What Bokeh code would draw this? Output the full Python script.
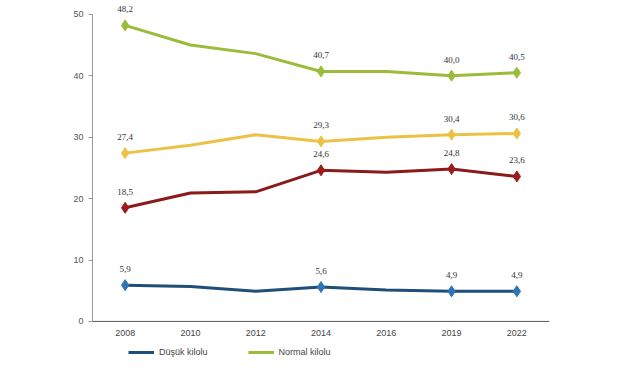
from bokeh.plotting import figure
from bokeh.models import (FactorRange, Range1d, Legend, LegendItem, LabelSet,
                          ColumnDataSource, FixedTicker, Span)
from bokeh.core.properties import value
from bokeh.embed import file_html
from bokeh.resources import INLINE

years = ["2008", "2010", "2012", "2014", "2016", "2019", "2022"]
dusuk = [5.9, 5.7, 4.9, 5.6, 5.1, 4.9, 4.9]
normal = [48.2, 45.0, 43.6, 40.7, 40.7, 40.0, 40.5]
fazla = [27.4, 28.7, 30.4, 29.3, 30.0, 30.4, 30.6]
obez = [18.5, 20.9, 21.1, 24.6, 24.3, 24.8, 23.6]
marked = [0, 3, 5, 6]
y_ticks = [0, 10, 20, 30, 40, 50]

series = [
    ("Düşük kilolu", dusuk, "#1f4e79", "#2e75b6"),
    ("Normal kilolu", normal, "#9bbb3b", "#9bbb3b"),
    ("Fazla kilolu", fazla, "#ecc246", "#ecc246"),
    ("Obez", obez, "#8b1a1a", "#9c1c1c"),
]

FONT = "Liberation Sans"

p = figure(width=617, height=359, x_range=FactorRange(*years),
           y_range=Range1d(-6.2, 51.6), output_backend="svg", toolbar_location=None,
           min_border_left=92, min_border_right=68, min_border_top=4,
           min_border_bottom=0)
p.outline_line_color = None
p.xgrid.grid_line_color = None
p.ygrid.grid_line_color = None
p.background_fill_color = "white"

p.yaxis.ticker = FixedTicker(ticks=y_ticks)
p.yaxis.bounds = (0, 50)
p.yaxis.axis_line_color = "#999999"
p.yaxis.major_tick_line_color = "#999999"
p.yaxis.major_tick_out = 4
p.yaxis.major_tick_in = 0
p.yaxis.minor_tick_line_color = None
p.yaxis.major_label_text_font = FONT
p.yaxis.major_label_text_font_size = "9px"
p.yaxis.major_label_text_color = "#555555"

p.xaxis.visible = False

# x axis line at zero and year labels
p.add_layout(Span(location=0, dimension="width", line_color="#555555",
                  line_width=1))
p.text(x=years, y=[0] * len(years), text=years, y_offset=9,
       text_font=value(FONT), text_font_size="9px", text_color="#444444",
       text_align="center", text_baseline="top")

items = []
for name, vals, lc, mc in series:
    src = ColumnDataSource(dict(x=years, y=vals))
    r = p.line("x", "y", source=src, line_color=lc, line_width=3)
    msrc = ColumnDataSource(dict(
        x=[years[i] for i in marked],
        y=[vals[i] for i in marked],
        t=[f"{vals[i]:.1f}".replace(".", ",") for i in marked]))
    p.scatter("x", "y", source=msrc, marker="diamond", size=11,
              fill_color=mc, line_color=mc)
    p.add_layout(LabelSet(x="x", y="y", text="t", source=msrc,
                          text_font=FONT, text_font_size="9px",
                          text_color="#333333", text_align="center",
                          y_offset=13))
    if name in ("Düşük kilolu", "Normal kilolu"):
        items.append(LegendItem(label=name, renderers=[r]))

legend = Legend(items=items, orientation="horizontal", location=(34, 0),
                label_text_font=FONT, label_text_font_size="9px",
                label_text_color="#444444", glyph_width=26, glyph_height=10,
                spacing=40, padding=2, margin=2, border_line_alpha=0,
                background_fill_alpha=0)
p.add_layout(legend)

open("out.html", "w").write(file_html(p, INLINE))
